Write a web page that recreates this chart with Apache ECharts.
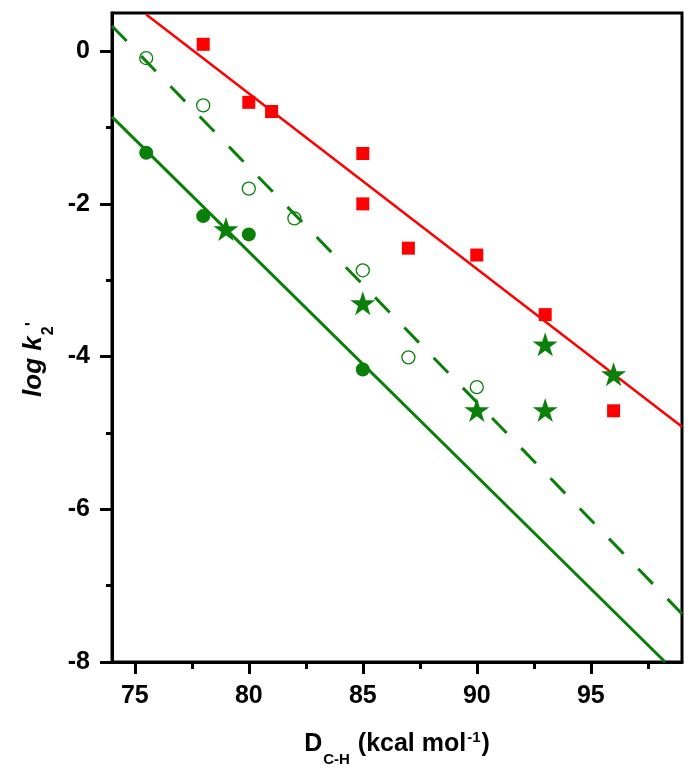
<!DOCTYPE html>
<html>
<head>
<meta charset="utf-8">
<script src="https://cdn.jsdelivr.net/npm/echarts@6/dist/echarts.min.js"></script>
<style>html,body{margin:0;padding:0;background:#fff;}#c{width:695px;height:778px;}</style>
</head>
<body>
<div id="c"></div>
<script>
// ---- data ----
const xMajorTicks = [75, 80, 85, 90, 95];
const xMinorTicks = [77.5, 82.5, 87.5, 92.5, 97.5];
const yMajorTicks = [-8, -6, -4, -2, 0];
const yMinorTicks = [-7, -5, -3, -1];

const redX = [78, 80, 81, 85, 85, 87, 90, 93, 96];
const redY = [0.09, -0.67, -0.79, -1.34, -2.0, -2.58, -2.67, -3.45, -4.71];

const filledX = [75.5, 78, 80, 85];
const filledY = [-1.33, -2.16, -2.40, -4.17];

const openX = [75.5, 78, 80, 82, 85, 87, 90];
const openY = [-0.09, -0.71, -1.80, -2.19, -2.87, -4.01, -4.40];

const starX = [79, 85, 90, 93, 93, 96];
const starY = [-2.33, -3.30, -4.70, -3.84, -4.70, -4.23];

const redFitX = [75.5, 99];
const redFitY = [0.48, -4.92];
const solidFitX = [74, 98.26];
const solidFitY = [-0.86, -8.0];
const dashFitX = [74, 99];
const dashFitY = [0.33, -7.37];

const zip = (a, b) => a.map((v, i) => [v, b[i]]);

const FONT = '"Liberation Sans", Arial, sans-serif';
const GREEN = '#0a800a';
const RED = '#ff0000';
const STAR = 'path://M50,0 L61.2,34.5 L97.6,34.5 L68.2,55.9 L79.4,90.5 L50,69.1 L20.6,90.5 L31.8,55.9 L2.4,34.5 L38.8,34.5 Z';

const chart = echarts.init(document.getElementById('c'), null, {renderer: 'canvas'});

const baseX = {type: 'value', min: 74, max: 99, position: 'bottom', splitLine: {show: false}};
const baseY = {type: 'value', min: -8, max: 0.5, position: 'left', splitLine: {show: false}};

chart.setOption({
  animation: false,
  backgroundColor: '#fff',
  grid: {left: 112, right: 13, top: 13, bottom: 116, show: true, borderColor: '#000', borderWidth: 3},
  xAxis: [
    Object.assign({}, baseX, {
      axisLine: {show: true, onZero: false, lineStyle: {color: '#000', width: 3}},
      axisTick: {show: true, customValues: xMajorTicks, length: 12, lineStyle: {color: '#000', width: 3}},
      axisLabel: {customValues: xMajorTicks, fontSize: 25, fontWeight: 'bold', color: '#000', margin: 22, fontFamily: FONT},
      name: '{b|D}{s|C-H}{b| (kcal mol}{p|-1}{b|)}',
      nameLocation: 'middle',
      nameGap: 60,
      nameTextStyle: {
        rich: {
          b: {fontSize: 25, fontWeight: 'bold', color: '#000', fontFamily: FONT, lineHeight: 30, padding: [10, 0, 0, 0], verticalAlign: 'top'},
          s: {fontSize: 15, fontWeight: 'bold', color: '#000', fontFamily: FONT, lineHeight: 15, padding: [30, 1, 0, 1], verticalAlign: 'top'},
          p: {fontSize: 15, fontWeight: 'bold', color: '#000', fontFamily: FONT, lineHeight: 15, padding: [8, 1, 0, 1], verticalAlign: 'top'}
        }
      }
    }),
    Object.assign({}, baseX, {
      axisLine: {show: false, onZero: false},
      axisTick: {show: true, customValues: xMinorTicks, length: 7, lineStyle: {color: '#000', width: 3}},
      axisLabel: {show: false}
    })
  ],
  yAxis: [
    Object.assign({}, baseY, {
      axisLine: {show: true, onZero: false, lineStyle: {color: '#000', width: 3}},
      axisTick: {show: true, customValues: yMajorTicks, length: 12, lineStyle: {color: '#000', width: 3}},
      axisLabel: {customValues: yMajorTicks, fontSize: 25, fontWeight: 'bold', color: '#000', margin: 22, fontFamily: FONT},
      name: '{i|log k}{s|2}{p|\'}',
      nameLocation: 'middle',
      nameGap: 60,
      nameTextStyle: {
        rich: {
          i: {fontSize: 26, fontWeight: 'bold', fontStyle: 'italic', color: '#000', fontFamily: FONT, lineHeight: 30, padding: [10, 0, 0, 0], verticalAlign: 'top'},
          s: {fontSize: 16, fontWeight: 'bold', color: '#000', fontFamily: FONT, lineHeight: 16, padding: [30, 0, 0, 1], verticalAlign: 'top'},
          p: {fontSize: 18, fontWeight: 'bold', color: '#000', fontFamily: FONT, lineHeight: 18, padding: [13, 44, 0, 0], verticalAlign: 'top'}
        }
      }
    }),
    Object.assign({}, baseY, {
      axisLine: {show: false, onZero: false},
      axisTick: {show: true, customValues: yMinorTicks, length: 6, lineStyle: {color: '#000', width: 3}},
      axisLabel: {show: false}
    })
  ],
  series: [
    {type: 'line', data: zip(redFitX, redFitY), symbol: 'none', clip: true, lineStyle: {color: RED, width: 2.5}, z: 2},
    {type: 'line', data: zip(solidFitX, solidFitY), symbol: 'none', clip: true, lineStyle: {color: GREEN, width: 3}, z: 2},
    {type: 'line', data: zip(dashFitX, dashFitY), symbol: 'none', clip: true, lineStyle: {color: GREEN, width: 3, type: [21, 21]}, z: 2},
    {type: 'scatter', data: zip(redX, redY), symbol: 'rect', symbolSize: 13, itemStyle: {color: RED, opacity: 1}, z: 5},
    {type: 'scatter', data: zip(filledX, filledY), symbol: 'circle', symbolSize: 14, itemStyle: {color: GREEN, opacity: 1}, z: 5},
    {type: 'scatter', data: zip(openX, openY), symbol: 'circle', symbolSize: 13, itemStyle: {color: 'rgba(0,0,0,0)', borderColor: GREEN, borderWidth: 1.3, opacity: 1}, z: 5},
    {type: 'scatter', data: zip(starX, starY), symbol: STAR, symbolSize: [25, 24], itemStyle: {color: GREEN, opacity: 1}, z: 5}
  ]
});
</script>
</body>
</html>
